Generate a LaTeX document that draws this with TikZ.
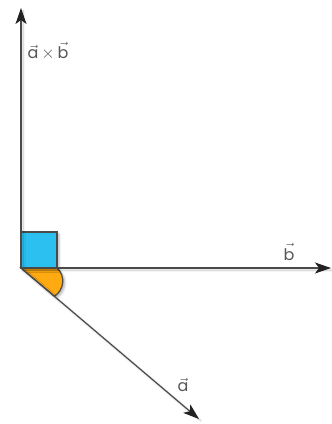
\documentclass[tikz,border=0pt]{standalone}
\usepackage{fontspec}
\setmainfont{Poppins}
\usetikzlibrary{arrows.meta,shadows.blur}
\definecolor{linec}{HTML}{4A4A4A}
\definecolor{tipc}{HTML}{222222}
\definecolor{bluec}{HTML}{2BC0F0}
\definecolor{orangec}{HTML}{FFAA11}
\definecolor{textc}{HTML}{555555}
\begin{document}
\begin{tikzpicture}[x=1pt,y=-1pt,
  axis/.style={draw=linec,line width=1.2pt,-{Stealth[length=16pt,width=11pt,inset=4pt,color=tipc]},blur shadow={shadow xshift=2pt,shadow yshift=-2pt,shadow blur steps=6,shadow opacity=25}},
  lbl/.style={text=textc,font=\fontsize{16}{18}\selectfont,inner sep=0pt},
  fillshape/.style={draw=linec,line width=1.2pt}]
\useasboundingbox (0,0) rectangle (332,424);
\coordinate (o) at (21,268);
\coordinate (top) at (21,8);
\coordinate (right) at (331,268);
\coordinate (diag) at (199,419);
\draw[fillshape,fill=orangec,blur shadow={shadow xshift=2pt,shadow yshift=-2pt,shadow opacity=30}] (o) -- (57,268) .. controls (66,276) and (64,290) .. (54.5,296.2) -- cycle;
\draw[fillshape,fill=bluec,blur shadow={shadow xshift=2pt,shadow yshift=-2pt,shadow opacity=30}] (o) rectangle (57,232);
\draw[axis] (o) -- (top);
\draw[axis] (o) -- (right);
\draw[axis] (o) -- (diag);
\node[lbl] (lab) at (48,51) {$\vec{\mbox{a}}\,{\times}\,\vec{\mbox{b}}$};
\node[lbl] (lb) at (289,252) {$\vec{\mbox{b}}$};
\node[lbl] (la) at (183,385) {$\vec{\mbox{a}}$};
\end{tikzpicture}
\end{document}
